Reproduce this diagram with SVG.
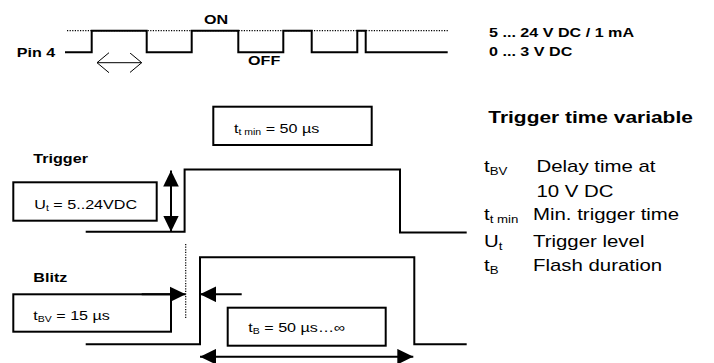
<svg xmlns="http://www.w3.org/2000/svg" width="714" height="363" viewBox="0 0 714 363">
<style>
  text { font-family: "Liberation Sans", Arial, sans-serif; fill: #000; }
  .b { font-weight: bold; font-size: 12.8px; }
  .h { font-weight: bold; font-size: 16.6px; }
  .r { font-size: 12.8px; }
  .l { font-size: 16.2px; }
  .sub { font-size: 65%; }
  .sig { fill: none; stroke: #000; stroke-width: 2; }
  .box { fill: #fff; stroke: #000; stroke-width: 2; }
  .dot { fill: none; stroke: #000; stroke-width: 1.2; stroke-dasharray: 1.2 1.4; }
  .arr { fill: none; stroke: #000; stroke-width: 2; }
  .thin { fill: none; stroke: #000; stroke-width: 1; }
</style>
<defs>
  <marker id="fh" markerUnits="userSpaceOnUse" markerWidth="16" markerHeight="16" refX="16" refY="7.8" orient="auto-start-reverse" viewBox="0 0 16 15.6">
    <path d="M0,0 L16,7.8 L0,15.6 z" fill="#000"/>
  </marker>
  <marker id="oh" markerUnits="userSpaceOnUse" markerWidth="14" markerHeight="22" refX="12" refY="10" orient="auto-start-reverse" viewBox="0 0 14 22">
    <path d="M0,0 L12,10 L0,20" fill="none" stroke="#000" stroke-width="1"/>
  </marker>
</defs>

<g id="pin4-signal">
  <line class="dot" x1="67" y1="30.7" x2="448" y2="30.7"/>
  <path class="sig" d="M65,52.3 H91.7 V30.7 H146.7 V52.3 H191.7 V30.7 H238.3 V52.3 H283.3 V30.7 H311.7 V52.3 H357.3 V30.7 H365.7 V52.3 H447.7"/>
  <text class="b" transform="translate(16.7,56.5) scale(1.26,1)">Pin 4</text>
  <text class="b" transform="translate(204,24.3) scale(1.26,1)">ON</text>
  <text class="b" transform="translate(248,65) scale(1.26,1)">OFF</text>
  <text class="b" transform="translate(489,36.7) scale(1.26,1)">5 ... 24 V DC / 1 mA</text>
  <text class="b" transform="translate(489,56) scale(1.26,1)">0 ... 3 V DC</text>
</g>

<g id="ttmin-box">
  <rect class="box" x="213.3" y="106.7" width="158.4" height="38.3"/>
  <text class="r" transform="translate(234,133.3) scale(1.26,1)">t<tspan class="sub" dy="2">t min</tspan><tspan dy="-2"> = 50 µs</tspan></text>
</g>

<g id="trigger">
  <text class="b" transform="translate(33.3,162.7) scale(1.26,1)">Trigger</text>
  <path class="sig" d="M85.7,231.7 H184.6 V169.5 H400 V232.5 H466.7"/>
  <rect class="box" x="13.3" y="182.3" width="143.4" height="38.4"/>
  <text class="r" transform="translate(34.3,209.3) scale(1.26,1)">U<tspan class="sub" dy="2">t</tspan><tspan dy="-2"> = 5..24VDC</tspan></text>
</g>

<g id="blitz">
  <text class="b" transform="translate(33.3,281.7) scale(1.26,1)">Blitz</text>
  <path class="sig" d="M85.7,344.3 H200 V257.3 H414.3 V344.3 H466.7"/>
  <line class="dot" x1="185.7" y1="244" x2="185.7" y2="318.3"/>
  <rect class="box" x="13.3" y="294.3" width="157.7" height="37.4"/>
  <text class="r" transform="translate(33.3,320) scale(1.26,1)">t<tspan class="sub" dy="2">BV</tspan><tspan dy="-2"> = 15 µs</tspan></text>
  <rect class="box" x="227.7" y="307.7" width="158" height="38"/>
  <text class="r" transform="translate(248.3,331.7) scale(1.26,1)">t<tspan class="sub" dy="2">B</tspan><tspan dy="-2"> = 50 µs…∞</tspan></text>
</g>

<g id="connectors">
  <line class="thin" x1="97" y1="62.7" x2="141.7" y2="62.7" marker-start="url(#oh)" marker-end="url(#oh)"/>
  <line class="arr" x1="171" y1="170.5" x2="171" y2="231.7" marker-start="url(#fh)" marker-end="url(#fh)"/>
  <line class="arr" x1="141.7" y1="294.3" x2="185.7" y2="294.3" marker-end="url(#fh)"/>
  <line class="arr" x1="241.7" y1="294.3" x2="200" y2="294.3" marker-end="url(#fh)"/>
  <line class="arr" x1="200" y1="356.7" x2="413.3" y2="356.7" marker-start="url(#fh)" marker-end="url(#fh)"/>
</g>

<g id="legend">
  <text class="h" transform="translate(488.3,123.3) scale(1.26,1)">Trigger time variable</text>
  <text class="l" transform="translate(484,171.7) scale(1.26,1)">t<tspan class="sub" dy="3">BV</tspan></text>
  <text class="l" transform="translate(536.5,171.7) scale(1.26,1)">Delay time at</text>
  <text class="l" transform="translate(536.5,196.7) scale(1.26,1)">10 V DC</text>
  <text class="l" transform="translate(484,220) scale(1.26,1)">t<tspan class="sub" dy="3">t min</tspan></text>
  <text class="l" transform="translate(533,220) scale(1.26,1)">Min. trigger time</text>
  <text class="l" transform="translate(484,246.7) scale(1.26,1)">U<tspan class="sub" dy="3">t</tspan></text>
  <text class="l" transform="translate(533,246.7) scale(1.26,1)">Trigger level</text>
  <text class="l" transform="translate(484,270.7) scale(1.26,1)">t<tspan class="sub" dy="3">B</tspan></text>
  <text class="l" transform="translate(533,270.7) scale(1.26,1)">Flash duration</text>
</g>
</svg>
